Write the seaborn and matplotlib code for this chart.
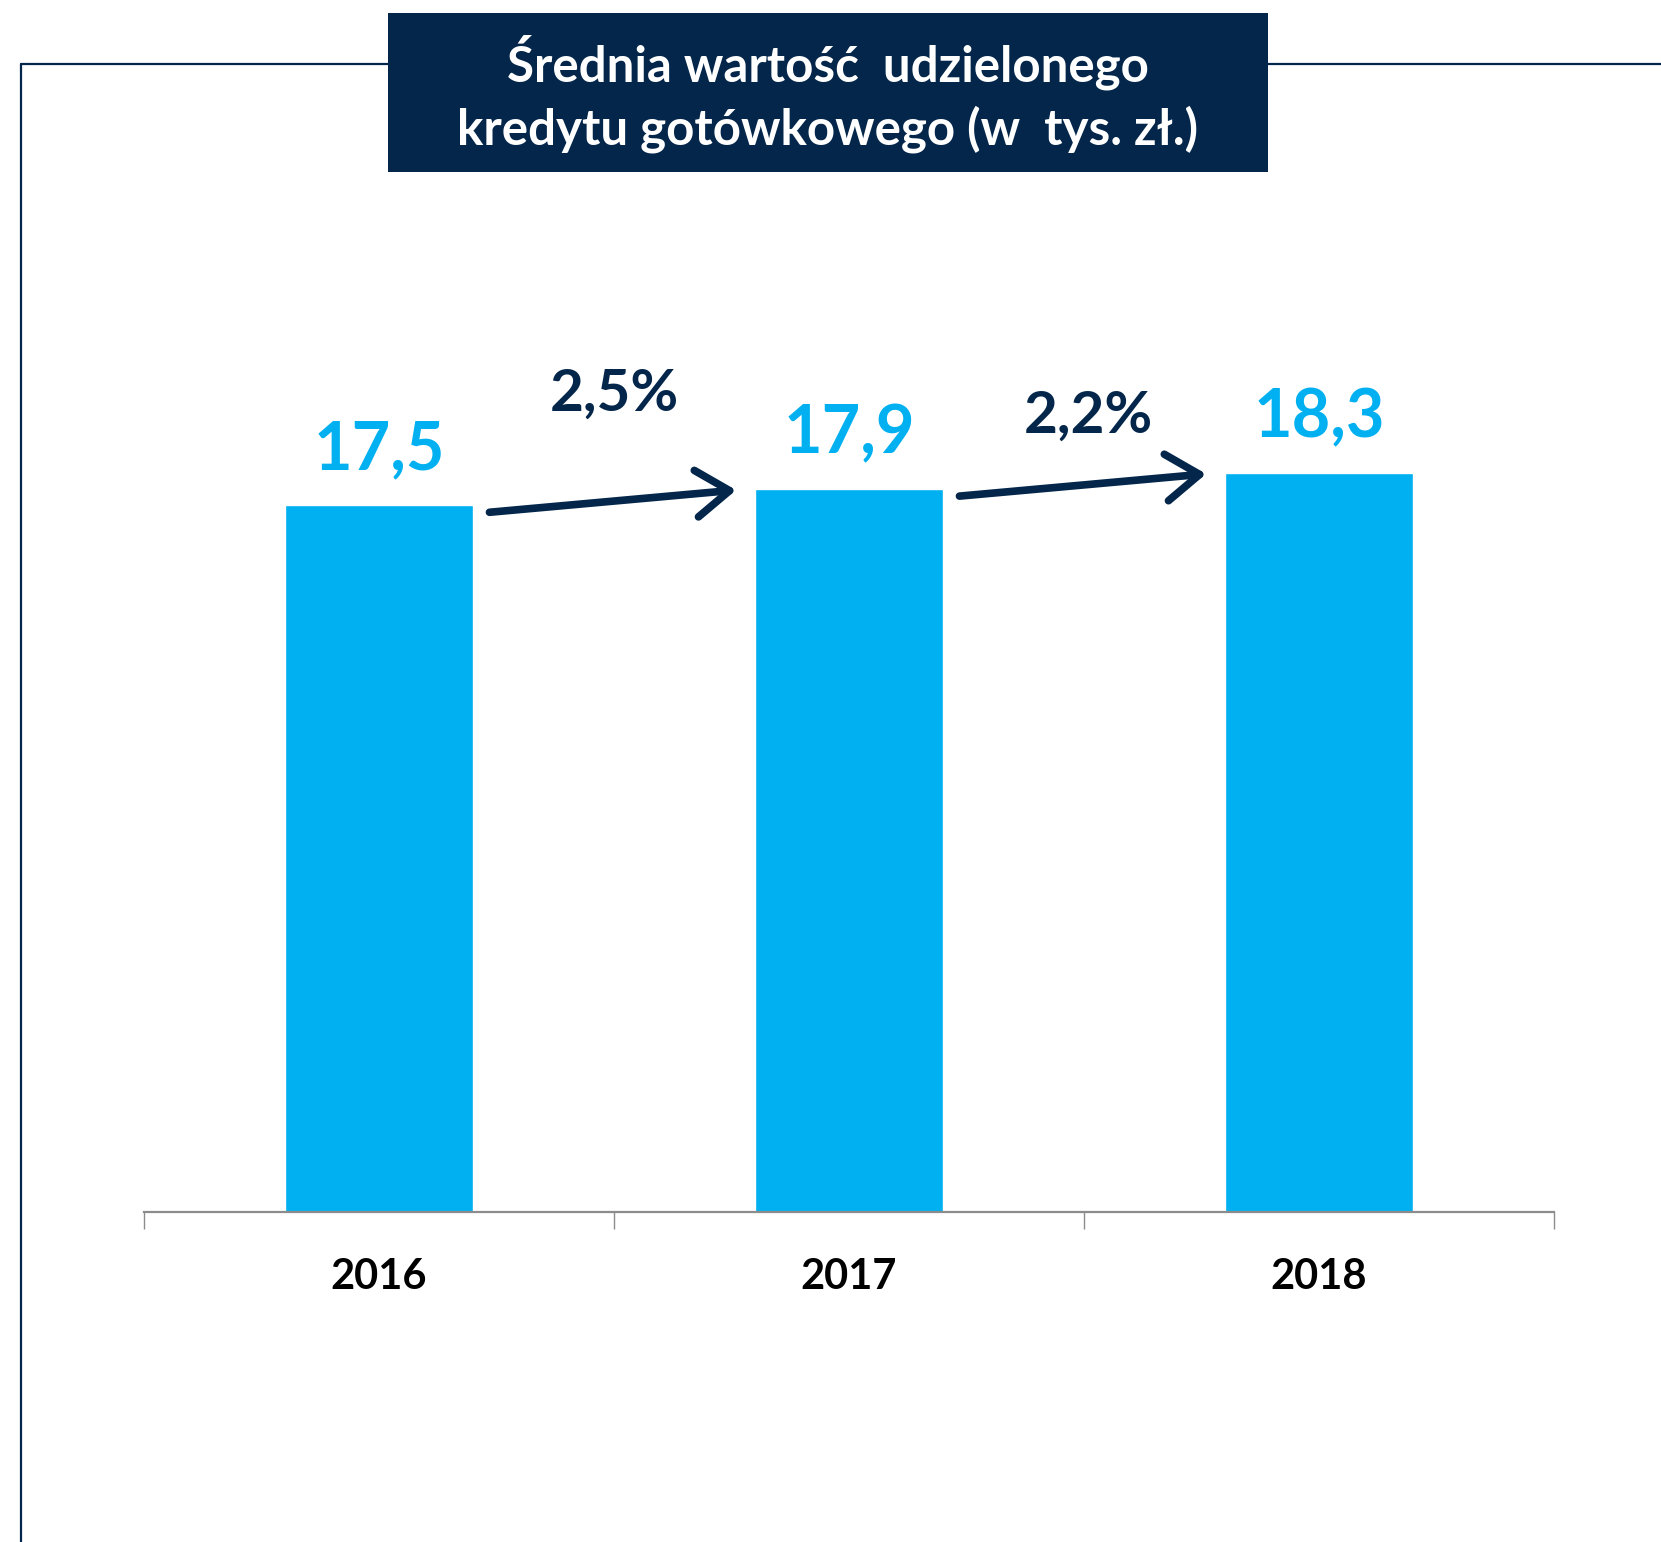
import matplotlib
matplotlib.use("Agg")
import matplotlib.pyplot as plt
from matplotlib.patches import Rectangle
from matplotlib.lines import Line2D
import seaborn as sns

years = ["2016", "2017", "2018"]
values = [17.5, 17.9, 18.3]
value_labels = ["17,5", "17,9", "18,3"]
growth_labels = ["2,5%", "2,2%"]
title = "Średnia wartość  udzielonego\nkredytu gotówkowego (w  tys. zł.)"

blue = "#00B0F0"
navy = "#03264A"

sns.set_theme(style="white")
plt.rcParams["font.family"] = ["Lato", "DejaVu Sans"]

fig = plt.figure(figsize=(16.61, 15.42), dpi=100)
ax = fig.add_axes([0.0867, 0.214, 0.8489, 0.655])

sns.barplot(x=years, y=values, color=blue, saturation=1, width=0.4, ax=ax)

ax.set_xlim(-0.5, 2.5)
ax.set_ylim(0, 25)
ax.set_yticks([])
ax.set_ylabel("")
for side in ["left", "top", "right"]:
    ax.spines[side].set_visible(False)
ax.spines["bottom"].set_color("#8c8c8c")
ax.spines["bottom"].set_linewidth(1.6)

# category boundary ticks, year labels on minor ticks
ax.set_xticks([-0.5, 0.5, 1.5, 2.5])
ax.set_xticklabels([])
ax.tick_params(axis="x", which="major", length=12, width=1, color="#8c8c8c", bottom=True)
ax.set_xticks([0, 1, 2], minor=True)
ax.set_xticklabels(years, minor=True, fontsize=30, fontweight="bold", color="black")
ax.tick_params(axis="x", which="minor", length=0, pad=33)

# value labels
for i, v in enumerate(values):
    ax.text(i, v + 0.58, value_labels[i], ha="center", va="bottom",
            fontsize=48, fontweight="bold", color=blue)

# growth arrows and labels
label_offsets = [2.75, 1.8]
for i, lab in enumerate(growth_labels):
    start = (i + 0.235, values[i] - 0.18)
    end = (i + 0.76, values[i + 1] - 0.03)
    ax.annotate("", xy=end, xytext=start,
                arrowprops=dict(arrowstyle="->,head_length=0.6,head_width=0.42",
                                mutation_scale=40, lw=5.5, color=navy,
                                shrinkA=0, shrinkB=0, capstyle="round",
                                joinstyle="round"))
    ax.text(i + 0.5 + 0.01 * i, values[i] + label_offsets[i], lab, ha="center", va="center",
            fontsize=42, fontweight="bold", color=navy)

# outer frame lines
fy = 1 - 64 / 1542
fx = 21 / 1661
fig.add_artist(Line2D([fx, fx], [0, fy], color=navy, lw=1.6))
fig.add_artist(Line2D([fx, 1], [fy, fy], color=navy, lw=1.6))

# title box
fig.add_artist(Rectangle((388 / 1661, 1 - 172 / 1542), 880 / 1661, 159 / 1542,
                         facecolor=navy, edgecolor="none", transform=fig.transFigure))
fig.text(828 / 1661, 1 - 94 / 1542, title, ha="center", va="center",
         fontsize=35.5, fontweight="bold", color="white", linespacing=1.4)

fig.savefig("out.png", dpi=100, facecolor="white")
